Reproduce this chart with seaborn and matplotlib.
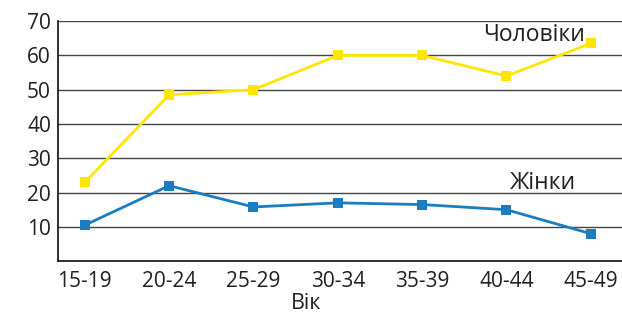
import pandas as pd
import matplotlib.pyplot as plt
import seaborn as sns

vik = ['15-19', '20-24', '25-29', '30-34', '35-39', '40-44', '45-49']
cholovіky = [23, 48.5, 50, 60, 60, 54, 63.5]
zhinky = [10.5, 22, 15.8, 17, 16.5, 15, 8]

df = pd.DataFrame({
    'vik': vik * 2,
    'val': cholovіky + zhinky,
    'grupa': ['Чоловіки'] * 7 + ['Жінки'] * 7,
})

sns.set_style('white')
plt.rcParams['font.family'] = ['Open Sans', 'DejaVu Sans']

fig = plt.figure(figsize=(6.22, 3.15), dpi=100)
ax = fig.add_axes([0.093, 0.171, 0.907, 0.762])

kolory = {'Чоловіки': '#ffe500', 'Жінки': '#1a7cc1'}
sns.lineplot(data=df, x='vik', y='val', hue='grupa', palette=kolory,
             marker='s', markersize=7, markeredgewidth=0, linewidth=2,
             legend=False, ax=ax, zorder=3)

ax.set_ylim(0, 70)
ax.set_xlim(-0.32, 6.37)
ax.set_yticks([10, 20, 30, 40, 50, 60, 70])
for y in [10, 20, 30, 40, 50, 60, 70]:
    ax.axhline(y, color='#444444', linewidth=1, zorder=1)

ax.tick_params(axis='both', length=0, labelsize=15, colors='#231f20', pad=7)
ax.tick_params(axis='y', pad=5)
for s in ['top', 'right']:
    ax.spines[s].set_visible(False)
for s in ['left', 'bottom']:
    ax.spines[s].set_color('#231f20')
    ax.spines[s].set_linewidth(1.3)

ax.set_xlabel('Вік', fontsize=15.5, color='#231f20', labelpad=1, x=0.44)
ax.set_ylabel('')

ax.text(5.33, 66.0, 'Чоловіки', fontsize=16.5, color='#231f20', ha='center', va='center')
ax.text(5.43, 22.8, 'Жінки', fontsize=16.5, color='#231f20', ha='center', va='center')

fig.savefig('out.png', dpi=100)
